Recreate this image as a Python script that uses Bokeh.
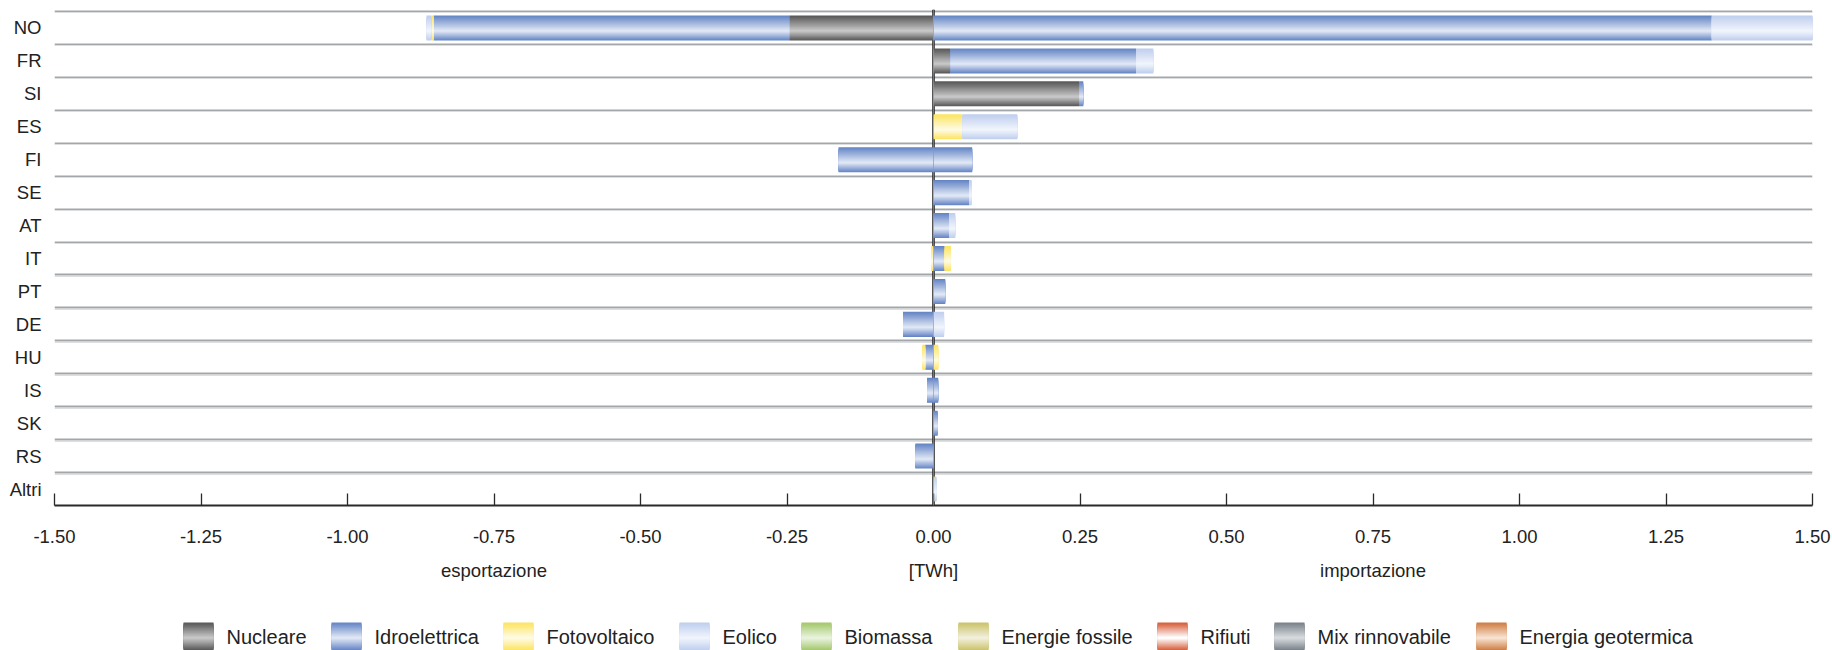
from bokeh.plotting import figure
from bokeh.layouts import column
from bokeh.models import (Range1d, FixedTicker, LinearAxis, NumeralTickFormatter,
                          Span, ColumnDataSource, Grid)
from bokeh.core.properties import value
from bokeh.embed import file_html
from bokeh.resources import INLINE

# ---------------- data (TWh) ----------------
countries = ["NO", "FR", "SI", "ES", "FI", "SE", "AT", "IT", "PT", "DE", "HU", "IS", "SK", "RS", "Altri"]
series = ["Nucleare", "Idroelettrica", "Fotovoltaico", "Eolico", "Biomassa",
          "Energie fossile", "Rifiuti", "Mix rinnovabile", "Energia geotermica"]

# esportazione (negative)
exp_nucleare = [-0.246, 0, 0, 0, 0, 0, 0, 0, 0, 0, 0, 0, 0, 0, 0]
exp_idro     = [-0.607, 0, 0, 0, -0.162, 0, 0, 0, 0, -0.052, -0.014, -0.011, 0, -0.031, 0]
exp_foto     = [-0.004, 0, 0, 0, 0, 0, 0, -0.004, 0, 0, -0.005, 0, 0, 0, 0]
exp_eolico   = [-0.008, 0, 0, 0, 0, 0, 0, 0, 0, 0, 0, 0, 0, 0, 0]
exp_biomassa = [0] * 15
exp_fossile  = [0] * 15
exp_rifiuti  = [0] * 15
exp_mix      = [0] * 15
exp_geo      = [0] * 15

# importazione (positive)
imp_nucleare = [0, 0.029, 0.249, 0, 0, 0, 0, 0, 0, 0, 0, 0, 0, 0, 0]
imp_idro     = [1.328, 0.317, 0.0065, 0, 0.066, 0.061, 0.027, 0.019, 0.020, 0, 0, 0.008, 0.007, 0, 0]
imp_foto     = [0, 0, 0, 0.0495, 0, 0, 0, 0.0105, 0, 0, 0.008, 0, 0, 0, 0.002]
imp_eolico   = [0.20, 0.029, 0, 0.0935, 0, 0.004, 0.010, 0, 0, 0.018, 0, 0, 0, 0, 0.003]
imp_biomassa = [0] * 15
imp_fossile  = [0] * 15
imp_rifiuti  = [0] * 15
imp_mix      = [0] * 15
imp_geo      = [0] * 15

x_ticks = [-1.5, -1.25, -1.0, -0.75, -0.5, -0.25, 0.0, 0.25, 0.5, 0.75, 1.0, 1.25, 1.5]
side_labels = {-0.75: "esportazione", 0: "[TWh]", 0.75: "importazione"}

exp_data = [exp_nucleare, exp_idro, exp_foto, exp_eolico, exp_biomassa, exp_fossile, exp_rifiuti, exp_mix, exp_geo]
imp_data = [imp_nucleare, imp_idro, imp_foto, imp_eolico, imp_biomassa, imp_fossile, imp_rifiuti, imp_mix, imp_geo]

# gradient colours: (edge, centre)
grad = {
    "Nucleare": ("#585858", "#c6c6c6"),
    "Idroelettrica": ("#6585c5", "#dfe7f5"),
    "Fotovoltaico": ("#fce462", "#fffbe2"),
    "Eolico": ("#bfcfee", "#f0f4fc"),
    "Biomassa": ("#a4c86c", "#e8f2dc"),
    "Energie fossile": ("#cbc36c", "#f1efda"),
    "Rifiuti": ("#d65e3a", "#ffffff"),
    "Mix rinnovabile": ("#7a828a", "#d6dadd"),
    "Energia geotermica": ("#cf7e46", "#f7e1cf"),
}

FONT = "Liberation Sans"
TXT = "#222222"
W = 1832
LEFT, RIGHT = 54, 20
MAIN_H, LH = 583, 67


def mix(c1, c2, t):
    a = [int(c1[i:i + 2], 16) for i in (1, 3, 5)]
    b = [int(c2[i:i + 2], 16) for i in (1, 3, 5)]
    return "#%02x%02x%02x" % tuple(round(a[j] + (b[j] - a[j]) * t) for j in range(3))


n = len(countries)
p = figure(width=W, height=MAIN_H, x_range=Range1d(-1.5, 1.5),
           y_range=Range1d(n - 0.5, -0.5 - 0.061),
           output_backend="svg", toolbar_location=None,
           min_border_left=LEFT, min_border_right=RIGHT, min_border_top=9, min_border_bottom=0,
           outline_line_color=None, background_fill_color="white")

# grid lines between categories
p.xgrid.visible = False
p.ygrid.ticker = FixedTicker(ticks=[i - 0.5 for i in range(n)])
p.ygrid.grid_line_color = "#a4a7aa"
p.ygrid.grid_line_width = 2
g2 = Grid(dimension=1, ticker=FixedTicker(ticks=[i - 0.5 + 0.045 for i in range(n)]),
          grid_line_color="#dcdedf", grid_line_width=1.2)
p.add_layout(g2)

# zero line beneath bars
p.add_layout(Span(location=0, dimension="height", line_color="#1e1e1e", line_width=2.5, level="underlay"))

# stacked segments
segs = {s: {"left": [], "right": [], "row": []} for s in series}
neg = [0.0] * n
pos = [0.0] * n
for si, s in enumerate(series):
    for i in range(n):
        v = exp_data[si][i]
        if v:
            segs[s]["left"].append(neg[i] + v)
            segs[s]["right"].append(neg[i])
            segs[s]["row"].append(i)
            neg[i] += v
        v = imp_data[si][i]
        if v:
            segs[s]["left"].append(pos[i])
            segs[s]["right"].append(pos[i] + v)
            segs[s]["row"].append(i)
            pos[i] += v

BAR = 0.76
LIGHT = 0.62
LEVELS = 16
for s in series:
    d = segs[s]
    if not d["row"]:
        continue
    edge, centre = grad[s]
    for k in range(LEVELS):
        t = k / (LEVELS - 1)
        tops = [r - BAR / 2 + k / LEVELS * LIGHT * BAR for r in d["row"]]
        bots = [r + BAR / 2 - k / LEVELS * (1 - LIGHT) * BAR for r in d["row"]]
        src = ColumnDataSource(dict(left=d["left"], right=d["right"], top=tops, bottom=bots))
        p.quad(left="left", right="right", top="top", bottom="bottom", source=src,
               fill_color=mix(edge, centre, t), line_color=None)

# thin grey line over bars at zero
p.add_layout(Span(location=0, dimension="height", line_color="#9a9a9a", line_alpha=0.7, line_width=1))

# y axis
p.yaxis.ticker = FixedTicker(ticks=list(range(n)))
p.yaxis.major_label_overrides = {i: c for i, c in enumerate(countries)}
p.yaxis.axis_line_color = None
p.yaxis.major_tick_line_color = None
p.yaxis.minor_tick_line_color = None
p.yaxis.major_label_standoff = 7
p.yaxis.major_label_text_font = FONT
p.yaxis.major_label_text_font_size = "18.5px"
p.yaxis.major_label_text_color = TXT

# x axis (numbers)
xa = p.xaxis[0]
xa.ticker = FixedTicker(ticks=x_ticks)
xa.formatter = NumeralTickFormatter(format="0.00")
xa.major_tick_in = 12
xa.major_tick_out = 0
xa.minor_tick_line_color = None
xa.axis_line_color = "#2a2a2a"
xa.axis_line_width = 2
xa.major_tick_line_color = "#2a2a2a"
xa.major_tick_line_width = 1.3
xa.major_label_standoff = 24
xa.major_label_text_font = FONT
xa.major_label_text_font_size = "18.5px"
xa.major_label_text_color = TXT

# second x axis carrying the side labels
ax2 = LinearAxis(ticker=FixedTicker(ticks=list(side_labels.keys())),
                 major_label_overrides=side_labels,
                 axis_line_color=None, major_tick_line_color=None, minor_tick_line_color=None,
                 major_tick_in=0, major_tick_out=0, major_label_standoff=14,
                 major_label_text_font=FONT, major_label_text_font_size="18.5px",
                 major_label_text_color=TXT)
p.add_layout(ax2, "below")

# ---------------- legend strip (separate figure, pixel units) ----------------
lg = figure(width=W, height=LH, x_range=Range1d(LEFT, W - RIGHT), y_range=Range1d(LH, 0),
            output_backend="svg", toolbar_location=None,
            x_axis_location=None, y_axis_location=None,
            min_border_left=LEFT, min_border_right=RIGHT, min_border_top=0, min_border_bottom=0,
            outline_line_color=None)
lg.xgrid.visible = False
lg.ygrid.visible = False

sw_x = [183, 331, 503, 679, 801, 958, 1157, 1274, 1476]   # swatch left edges (layout px)
SW_W, SW_TOP, SW_H = 30, 39, 28
L_LEVELS = 14
for k in range(L_LEVELS):
    t = k / (L_LEVELS - 1)
    top = SW_TOP + k / L_LEVELS * 0.55 * SW_H
    bot = SW_TOP + SW_H - k / L_LEVELS * 0.45 * SW_H
    lg.quad(left=sw_x, right=[x + SW_W for x in sw_x], top=[top] * len(sw_x), bottom=[bot] * len(sw_x),
            fill_color=[mix(grad[s][0], grad[s][1], t) for s in series], line_color=None)

lg.text(x=[x + 43 for x in sw_x], y=[SW_TOP + 14.5] * len(sw_x), text=series,
        text_font=value(FONT), text_font_size=value("20px"), text_color=TXT,
        text_align="left", text_baseline="middle")

layout = column(p, lg, spacing=0)
open("out.html", "w").write(file_html(layout, INLINE))
